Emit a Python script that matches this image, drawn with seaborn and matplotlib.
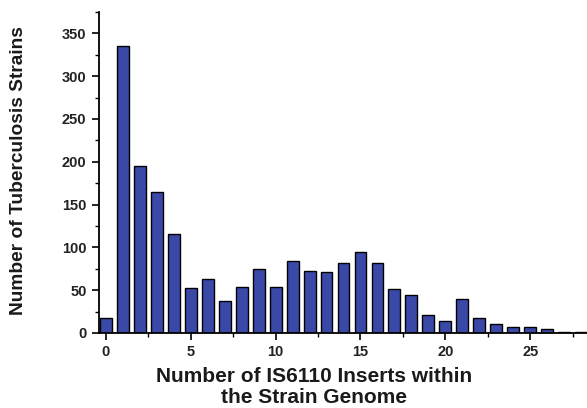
import numpy as np
import pandas as pd
import matplotlib
matplotlib.use("Agg")
import matplotlib.pyplot as plt
import seaborn as sns
from matplotlib.ticker import MultipleLocator

inserts = list(range(0, 29))
strains = [18, 335, 195, 165, 116, 52, 63, 37, 54, 75, 54, 84, 73, 71, 82, 95,
           82, 51, 44, 21, 14, 40, 17, 10, 7, 7, 5, 1, 1]
x_label = "Number of IS6110 Inserts within\nthe Strain Genome"
y_label = "Number of Tuberculosis Strains"

sns.set_style("ticks")
plt.rcParams['font.family'] = ['Liberation Sans', 'DejaVu Sans']
plt.rcParams['text.color'] = 'black'
plt.rcParams['xtick.color'] = 'black'
plt.rcParams['ytick.color'] = 'black'

df = pd.DataFrame({"inserts": inserts, "strains": strains})

fig = plt.figure(figsize=(5.87, 4.08), dpi=100)
ax = fig.add_axes([99/587, 1-333/408, 1-99/587, (333-12)/408])
sns.barplot(data=df, x="inserts", y="strains", native_scale=True, width=0.7,
            color="#3a48a8", saturation=1, edgecolor="black", linewidth=1.0, ax=ax)

ax.set_xlim(-0.41, 28.35)
ax.set_ylim(0, 375)
ax.xaxis.set_major_locator(MultipleLocator(5))
ax.xaxis.set_minor_locator(MultipleLocator(2.5))
ax.yaxis.set_major_locator(MultipleLocator(50))
ax.yaxis.set_minor_locator(MultipleLocator(25))
ax.tick_params(axis="both", which="major", length=5, width=1.2, labelsize=10.5,
               pad=4, color="black", labelcolor="#222222")
ax.tick_params(axis="both", which="minor", length=3, width=1.0, color="black")
for lab in ax.get_xticklabels() + ax.get_yticklabels():
    lab.set_fontweight("bold")
for s in ["left", "bottom"]:
    ax.spines[s].set_linewidth(1.3)
    ax.spines[s].set_color("black")
sns.despine(ax=ax)
ax.set_xlabel("")
ax.set_ylabel("")
fig.text(314/587, 1-387/408, x_label, ha="center", va="center", fontsize=15,
         fontweight="bold", linespacing=1.1, color="#1a1a1a")
fig.text(19/587, 1-171/408, y_label, ha="center", va="center", rotation=90,
         fontsize=13.8, fontweight="bold", color="#1a1a1a")

fig.savefig("out.png", dpi=100)
